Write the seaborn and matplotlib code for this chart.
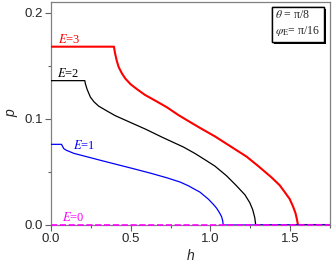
import matplotlib
matplotlib.use("Agg")
import matplotlib.pyplot as plt
import matplotlib.patheffects as pe
from matplotlib.ticker import MultipleLocator, FormatStrFormatter
import seaborn as sns
import pandas as pd

# ---- data ----
h_e3 = [0.0, 0.395, 0.398, 0.403, 0.412, 0.424, 0.444, 0.466, 0.50, 0.539, 0.59, 0.65, 0.726, 0.80,
        0.861, 0.94, 1.028, 1.153, 1.226, 1.30, 1.382, 1.434, 1.466, 1.497, 1.518, 1.534, 1.543, 1.549, 1.75]
p_e3 = [0.168, 0.168, 0.165, 0.161, 0.155, 0.149, 0.143, 0.138, 0.1325, 0.128, 0.1225, 0.1175, 0.111, 0.1035,
        0.098, 0.091, 0.0835, 0.0715, 0.0645, 0.0555, 0.045, 0.0375, 0.031, 0.0245, 0.0175, 0.011, 0.005, 0.0, 0.0]

h_e2 = [0.0, 0.212, 0.216, 0.226, 0.247, 0.27, 0.299, 0.35, 0.403, 0.50, 0.59, 0.70, 0.83, 0.903,
        0.976, 1.028, 1.10, 1.16, 1.216, 1.247, 1.265, 1.278, 1.284, 1.75]
p_e2 = [0.136, 0.136, 0.133, 0.128, 0.1205, 0.116, 0.112, 0.1075, 0.103, 0.0965, 0.0905, 0.0825, 0.0735, 0.0674,
        0.0605, 0.0555, 0.0465, 0.0375, 0.0285, 0.021, 0.0145, 0.007, 0.0, 0.0]

h_e1 = [0.0, 0.066, 0.071, 0.08, 0.095, 0.111, 0.143, 0.22, 0.309, 0.40, 0.518, 0.62, 0.726, 0.809,
        0.861, 0.903, 0.934, 0.986, 1.018, 1.039, 1.059, 1.07, 1.077, 1.08, 1.75]
p_e1 = [0.076, 0.076, 0.0745, 0.072, 0.0705, 0.0695, 0.0675, 0.0645, 0.061, 0.0575, 0.053, 0.049, 0.0445, 0.0405,
        0.037, 0.0335, 0.031, 0.0245, 0.0195, 0.0158, 0.011, 0.0078, 0.004, 0.0, 0.0]

h_e0 = [0.0, 1.75]
p_e0 = [0.0, 0.0]

labels = ["E=3", "E=2", "E=1", "E=0"]
colors = ["#ff0000", "#000000", "#0000ff", "#ff00ff"]

sns.set_style("ticks")
plt.rcParams["font.family"] = ["Liberation Sans", "DejaVu Sans"]
plt.rcParams["mathtext.fontset"] = "stix"

fig = plt.figure(figsize=(3.32, 2.63), dpi=100)
ax = fig.add_axes([0.1536, 0.1445, 0.8404, 0.8475])

frames = []
for lab, hs, ps in [("E=3", h_e3, p_e3), ("E=2", h_e2, p_e2), ("E=1", h_e1, p_e1), ("E=0", h_e0, p_e0)]:
    frames.append(pd.DataFrame({"h": hs, "p": ps, "E": lab}))
df = pd.concat(frames, ignore_index=True)

widths = {"E=3": 1.5, "E=2": 0.9, "E=1": 0.9, "E=0": 1.2}
for lab, col in zip(labels, colors):
    sub = df[df["E"] == lab]
    sns.lineplot(data=sub, x="h", y="p", ax=ax, color=col, lw=widths[lab],
                 linestyle="--" if lab == "E=0" else "-", sort=False,
                 estimator=None, legend=False, zorder=3 if lab != "E=0" else 4,
                 clip_on=False if lab == "E=0" else True)

ax.set_xlim(0, 1.75)
ax.set_ylim(0, 0.21)
ax.xaxis.set_major_locator(MultipleLocator(0.5))
ax.xaxis.set_minor_locator(MultipleLocator(0.25))
ax.yaxis.set_major_locator(MultipleLocator(0.1))
ax.yaxis.set_minor_locator(MultipleLocator(0.05))
ax.xaxis.set_major_formatter(FormatStrFormatter("%.1f"))
ax.yaxis.set_major_formatter(FormatStrFormatter("%.1f"))

for s in ax.spines.values():
    s.set_visible(True)
    s.set_color("#808080")
    s.set_linewidth(0.9)
ax.tick_params(which="major", direction="out", length=4, width=0.8, color="#606060",
               labelsize=9.5, pad=2, top=False, right=False)
ax.tick_params(which="minor", direction="out", length=2.5, width=0.8, color="#606060",
               top=False, right=False)

ax.set_xlabel("h", fontstyle="italic", fontsize=10, labelpad=3)
ax.set_ylabel("p", fontstyle="italic", fontsize=10, labelpad=4)

tfont = dict(family="Liberation Serif", fontsize=9)
ax.text(0.045, 0.171, r"$E$=3", color="#ff0000", **tfont)
ax.text(0.040, 0.139, r"$E$=2", color="#000000", **tfont)
ax.text(0.14, 0.0715, r"$E$=1", color="#0000ff", **tfont)
ax.text(0.07, 0.0035, r"$E$=0", color="#ff00ff", **tfont)

t = ax.text(0.803, 0.968, "$\\theta$ = π/8\n$\\varphi_{\\rm E}$= π/16", transform=ax.transAxes,
            ha="left", va="top", family="Liberation Serif", fontsize=8.5, linespacing=1.3,
            bbox=dict(boxstyle="square,pad=0.3", fc="white", ec="black", lw=1.0), zorder=6)
t.get_bbox_patch().set_path_effects([pe.withSimplePatchShadow(offset=(1.5, -1.5), shadow_rgbFace="black", alpha=1.0), pe.Normal()])

fig.savefig("out.png", dpi=100)
